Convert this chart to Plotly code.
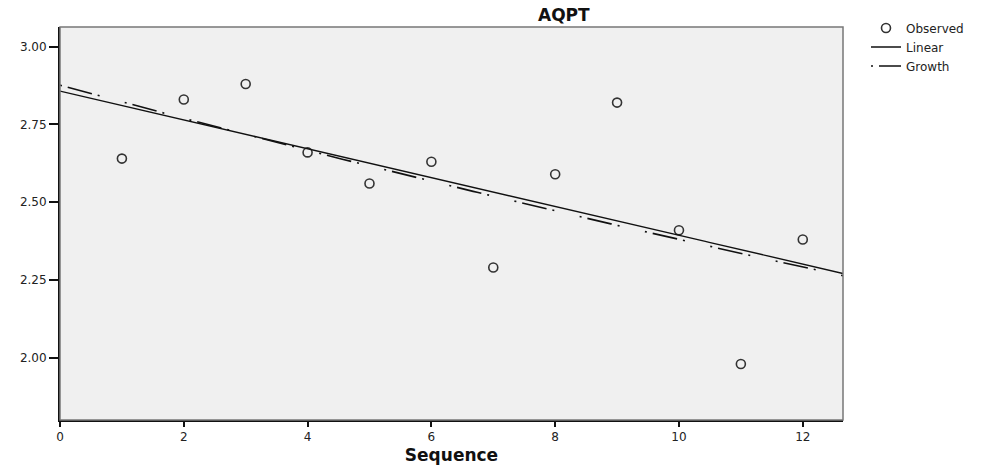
import numpy as np
import plotly.graph_objects as go

sequence = [1, 2, 3, 4, 5, 6, 7, 8, 9, 10, 11, 12]
aqpt = [2.64, 2.83, 2.88, 2.66, 2.56, 2.63, 2.29, 2.59, 2.82, 2.41, 1.98, 2.38]
x_ticks = [0, 2, 4, 6, 8, 10, 12]
y_ticks = [2.00, 2.25, 2.50, 2.75, 3.00]
x_range = [0, 12.65]
y_range = [1.80, 3.063]

xs = np.array(sequence, dtype=float)
ys = np.array(aqpt, dtype=float)
# Linear fit
b1, b0 = np.polyfit(xs, ys, 1)
# Growth fit: ln(y) = b0 + b1*x
g1, g0 = np.polyfit(xs, np.log(ys), 1)
line_x = np.linspace(x_range[0], x_range[1], 200)
lin_y = b0 + b1 * line_x
gro_y = np.exp(g0 + g1 * line_x)

FONT = "DejaVu Sans, Liberation Sans, Arial, sans-serif"
W, H = 989, 468
ML, MR, MT, MB = 60, 146, 27, 48
PW, PH = W - ML - MR, H - MT - MB

fig = go.Figure()
fig.add_trace(go.Scatter(
    x=sequence, y=aqpt, mode="markers", name="Observed",
    marker=dict(symbol="circle-open", size=9, color="#333333", line=dict(width=1.6, color="#333333")),
))
fig.add_trace(go.Scatter(
    x=line_x, y=lin_y, mode="lines", name="Linear",
    line=dict(color="#111111", width=1.4),
))
fig.add_trace(go.Scatter(
    x=line_x, y=gro_y, mode="lines", name="Growth",
    line=dict(color="#111111", width=1.6, dash="2px,6px,25px,6px,2px,26px"),
))

fig.update_layout(
    width=W, height=H,
    margin=dict(l=ML, r=MR, t=MT, b=MB, autoexpand=False),
    paper_bgcolor="white",
    plot_bgcolor="#F0F0F0",
    font=dict(family=FONT, size=12, color="#222222"),
    showlegend=True,
    legend=dict(
        x=(866 - ML) / PW, y=1 + (MT - 13.5) / PH, xanchor="left", yanchor="top",
        font=dict(family=FONT, size=12, color="#222222"),
        bgcolor="rgba(0,0,0,0)", tracegroupgap=0, itemwidth=30,
    ),
    annotations=[
        dict(text="<b>AQPT</b>", x=(564 - ML) / PW, y=1 + (MT - 15) / PH,
             xref="paper", yref="paper", showarrow=False, yanchor="middle",
             font=dict(family=FONT, size=17, color="#111111")),
    ],
    shapes=[
        dict(type="rect", xref="paper", yref="paper", x0=0, x1=1, y0=0, y1=1,
             line=dict(color="#777777", width=1.5), layer="above"),
    ],
)

fig.update_xaxes(
    range=x_range, tickvals=x_ticks, ticktext=[str(v) for v in x_ticks],
    showgrid=False, zeroline=False,
    showline=True, linecolor="#111111", linewidth=2,
    ticks="outside", ticklen=5, tickwidth=2, tickcolor="#111111",
    tickfont=dict(family=FONT, size=12, color="#222222"),
    title=dict(text="<b>Sequence</b>", font=dict(family=FONT, size=17, color="#111111"), standoff=6),
)
fig.update_yaxes(
    range=y_range, tickvals=y_ticks, ticktext=[f"{v:.2f}" for v in y_ticks],
    showgrid=False, zeroline=False,
    showline=True, linecolor="#111111", linewidth=2,
    ticks="outside", ticklen=9, tickwidth=2, tickcolor="#111111",
    tickfont=dict(family=FONT, size=12, color="#222222"),
)

fig.write_html("out.html")
